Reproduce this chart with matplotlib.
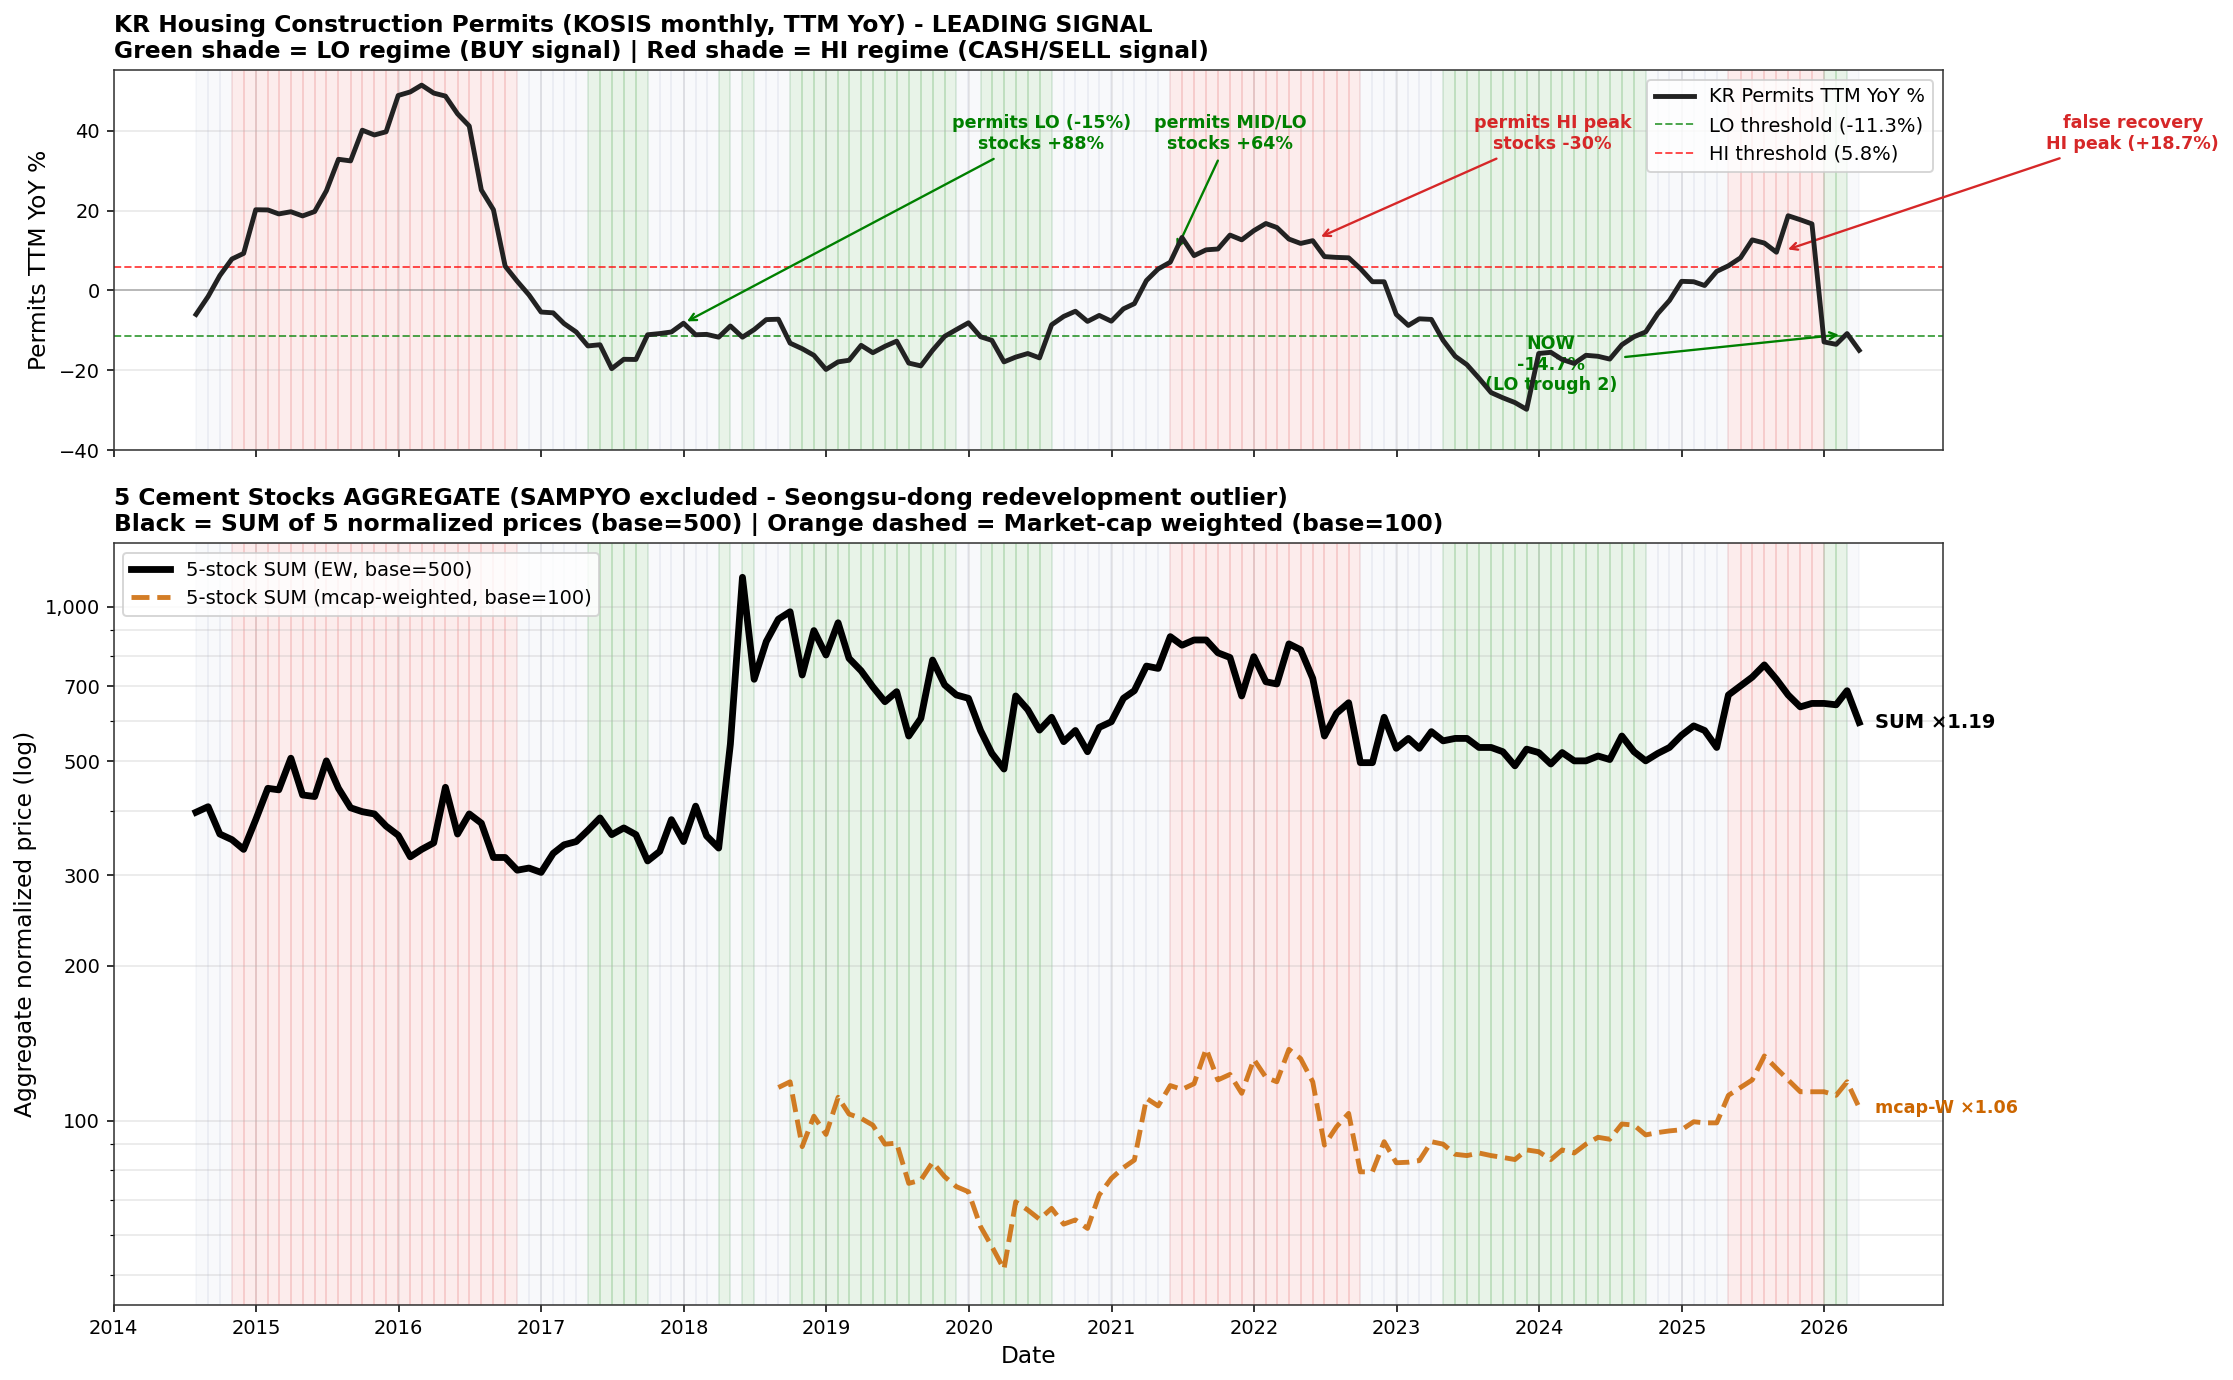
"""
KR permits TTM YoY (leading signal) vs 5 cement stocks aggregate.
Top: permits line + regime shading | Bottom: EW sum and mcap-weighted sum (log).
"""
import matplotlib
matplotlib.use("Agg")
import matplotlib.pyplot as plt
import matplotlib.dates as mdates
from matplotlib.ticker import FixedLocator, FuncFormatter, NullFormatter
import pandas as pd

plt.rcParams["font.family"] = ["DejaVu Sans"]
plt.rcParams["axes.edgecolor"] = "#333333"
DPI = 140

# month-end observations
DATES = pd.date_range("2014-07-31", "2026-03-31", freq="ME")

PERMITS = [
    -6.0, -1.5, 3.75, 7.9, 9.3, 20.25,
    20.2, 19.2, 19.75, 18.7, 19.8, 25.0, 32.9, 32.5, 40.2, 39.0, 39.8, 48.9,
    49.8, 51.5, 49.5, 48.75, 44.3, 41.25, 25.2, 20.25, 6.1, 2.3, -1.1, -5.4,
    -5.6, -8.3, -10.4, -13.9, -13.6, -19.6, -17.25, -17.3, -11.1, -10.8, -10.4, -8.2,
    -11.1, -11.0, -11.7, -8.9, -11.7, -9.8, -7.3, -7.2, -13.2, -14.6, -16.25, -19.8,
    -17.9, -17.5, -13.75, -15.6, -14.0, -12.7, -18.2, -18.9, -15.0, -11.5, -9.8, -8.1,
    -11.6, -12.5, -17.9, -16.7, -15.8, -16.9, -8.6, -6.5, -5.2, -7.75, -6.25, -7.7,
    -4.6, -3.3, 2.5, 5.4, 7.1, 13.3, 8.75, 10.2, 10.4, 13.9, 12.7, 15.0,
    16.8, 15.8, 12.9, 11.8, 12.5, 8.5, 8.3, 8.2, 5.5, 2.2, 2.2, -6.0,
    -8.75, -7.1, -7.25, -12.5, -16.5, -18.6, -22.0, -25.6, -26.9, -28.1, -29.8, -15.8,
    -15.5, -17.3, -18.3, -16.25, -16.5, -17.2, -13.6, -11.6, -10.4, -5.8, -2.5, 2.3,
    2.2, 1.25, 4.8, 6.2, 8.2, 12.7, 11.9, 9.6, 18.75, 17.75, 16.7, -12.9,
    -13.5, -10.8, -15.0,
]

EW_SUM = [
    398, 408, 361, 352, 337, 385,
    443, 440, 507, 430, 427, 501, 443, 406, 399, 395, 374, 359,
    326, 337, 347, 445, 361, 395, 379, 325, 325, 307, 310, 304,
    331, 344, 349, 367, 388, 360, 371, 360, 320, 334, 385, 349,
    409, 358, 339, 540, 1140, 722, 855, 945, 977, 736, 898, 805,
    930, 793, 750, 698, 653, 683, 560, 606, 787, 704, 673, 663,
    574, 518, 483, 670, 630, 575, 609, 546, 574, 522, 582, 597,
    663, 686, 766, 758, 874, 841, 861, 861, 813, 796, 670, 799,
    714, 707, 846, 824, 725, 560, 620, 650, 497, 497, 609, 530,
    554, 530, 571, 548, 554, 554, 532, 532, 522, 490, 528, 520,
    494, 520, 501, 501, 512, 504, 560, 522, 501, 518, 532, 562,
    586, 574, 532, 673, 701, 729, 770, 722, 673, 638, 648, 648,
    644, 686, 595,
]

MCAP_DATES = pd.date_range("2018-08-31", "2026-03-31", freq="ME")
MCAP_W = [
    116, 119, 89, 102, 94,
    111, 103, 101, 98, 90, 90.4, 75.5, 76.6, 83, 77.8, 74.4, 72.7,
    62.2, 56.9, 51.4, 69.5, 67, 64.3, 67.5, 62.9, 64.1, 61.7, 71.7, 77.2,
    81, 83.8, 110.5, 106.8, 117, 115, 118, 138, 120, 123, 113, 131.6,
    121.4, 119, 137.6, 132, 119, 89.6, 97.3, 103.3, 79.5, 79.5, 91, 82.8,
    83, 83.6, 91, 90, 86, 85.5, 86.5, 85.5, 84.8, 84, 87.7, 87,
    84, 87.7, 86.5, 90, 92.8, 92, 98.5, 98, 93.8, 94.8, 95.5, 96,
    99.5, 99, 99, 112, 116, 120, 133.6, 126.4, 120, 113.8, 113.8, 113.8,
    112, 119, 106,
]

LO_THR, HI_THR = -11.3, 5.8
EW_BASE, MCAP_BASE = 500, 100

# annotations: text, arrow target (date, value), text centre (date, value), colour
NOTES = [
    ("permits LO (-15%)\nstocks +88%", ("2017-12-31", -8.2), ("2020-07-04", 39.3), "green"),
    ("permits MID/LO\nstocks +64%", ("2021-06-12", 9.5), ("2021-11-01", 39.3), "green"),
    ("permits HI peak\nstocks -30%", ("2022-06-12", 13.1), ("2024-02-04", 39.3), "#d62728"),
    ("false recovery\nHI peak (+18.7%)", ("2025-09-20", 10.0), ("2028-03-01", 39.3), "#d62728"),
    ("NOW\n-14.7%\n(LO trough 2)", ("2026-02-17", -11.0), ("2024-02-01", -18.6), "green"),
]

REG_COLOR = {"LO": "green", "HI": "#e03030", "MID": "#6a7fa8"}
REG_ALPHA = {"LO": 0.09, "HI": 0.09, "MID": 0.045}


def regime(v):
    if v < LO_THR:
        return "LO"
    if v > HI_THR:
        return "HI"
    return "MID"


def shade(ax):
    for i in range(len(DATES) - 1):
        r = regime(PERMITS[i])
        ax.axvspan(DATES[i], DATES[i + 1], color=REG_COLOR[r], alpha=REG_ALPHA[r], zorder=0)


def d(s):
    return mdates.date2num(pd.Timestamp(s))


fig = plt.figure(figsize=(2233 / DPI, 1380 / DPI), dpi=DPI)
ax1 = fig.add_axes([0.0509, 0.6739, 0.8191, 0.2754])
ax2 = fig.add_axes([0.0509, 0.0544, 0.8191, 0.5522], sharex=ax1)

# ---- top: permits
shade(ax1)
ax1.plot(DATES, PERMITS, color="#222222", lw=2.5, label="KR Permits TTM YoY %", zorder=4)
ax1.axhline(LO_THR, color="green", ls="--", lw=1, alpha=0.7, label=f"LO threshold ({LO_THR}%)")
ax1.axhline(HI_THR, color="red", ls="--", lw=1, alpha=0.7, label=f"HI threshold ({HI_THR}%)")
ax1.axhline(0, color="gray", lw=0.8, alpha=0.6)
ax1.set_ylim(-40, 55.3)
ax1.set_yticks([-40, -20, 0, 20, 40])
ax1.set_ylabel("Permits TTM YoY %", fontsize=12)
ax1.grid(True, alpha=0.3)
ax1.legend(loc="upper right", fontsize=10)
ax1.tick_params(labelbottom=False)
ax1.set_title("KR Housing Construction Permits (KOSIS monthly, TTM YoY) - LEADING SIGNAL\n"
              "Green shade = LO regime (BUY signal) | Red shade = HI regime (CASH/SELL signal)",
              loc="left", fontsize=12, fontweight="bold")
for txt, xy, xyt, col in NOTES:
    ax1.annotate(txt, xy=(d(xy[0]), xy[1]), xytext=(d(xyt[0]), xyt[1]),
                 ha="center", va="center", fontsize=9, fontweight="bold", color=col,
                 arrowprops=dict(arrowstyle="->", color=col, lw=1.2), annotation_clip=False)

# ---- bottom: aggregate
shade(ax2)
ax2.set_yscale("log")
ax2.plot(DATES, EW_SUM, color="black", lw=3.5, label="5-stock SUM (EW, base=500)", zorder=4)
ax2.plot(MCAP_DATES, MCAP_W, color="#cc6600", ls="--", lw=2.5, alpha=0.85,
         label="5-stock SUM (mcap-weighted, base=100)", zorder=4)
ax2.yaxis.set_major_locator(FixedLocator([100, 200, 300, 500, 700, 1000]))
ax2.yaxis.set_major_formatter(FuncFormatter(lambda v, _: f"{v:,.0f}"))
ax2.yaxis.set_minor_formatter(NullFormatter())
ax2.set_ylim(43.8, 1330)
ax2.grid(True, which="both", alpha=0.3)
ax2.set_ylabel("Aggregate normalized price (log)", fontsize=12)
ax2.set_xlabel("Date", fontsize=12)
ax2.legend(loc="upper left", fontsize=10)
ax2.set_title("5 Cement Stocks AGGREGATE (SAMPYO excluded - Seongsu-dong redevelopment outlier)\n"
              "Black = SUM of 5 normalized prices (base=500) | Orange dashed = Market-cap weighted (base=100)",
              loc="left", fontsize=12, fontweight="bold")
ax2.annotate(f"SUM \u00d7{EW_SUM[-1] / EW_BASE:.2f}", xy=(DATES[-1], EW_SUM[-1]), xytext=(8, 0),
             textcoords="offset points", va="center", fontsize=10, fontweight="bold", color="black")
ax2.annotate(f"mcap-W \u00d7{MCAP_W[-1] / MCAP_BASE:.2f}", xy=(MCAP_DATES[-1], MCAP_W[-1]), xytext=(8, 0),
             textcoords="offset points", va="center", fontsize=9, fontweight="bold", color="#cc6600")

ax2.xaxis.set_major_locator(mdates.YearLocator())
ax2.xaxis.set_major_formatter(mdates.DateFormatter("%Y"))
ax2.set_xlim(pd.Timestamp("2014-01-01"), pd.Timestamp("2026-10-31"))

fig.savefig("out.png", dpi=DPI, facecolor="white")
